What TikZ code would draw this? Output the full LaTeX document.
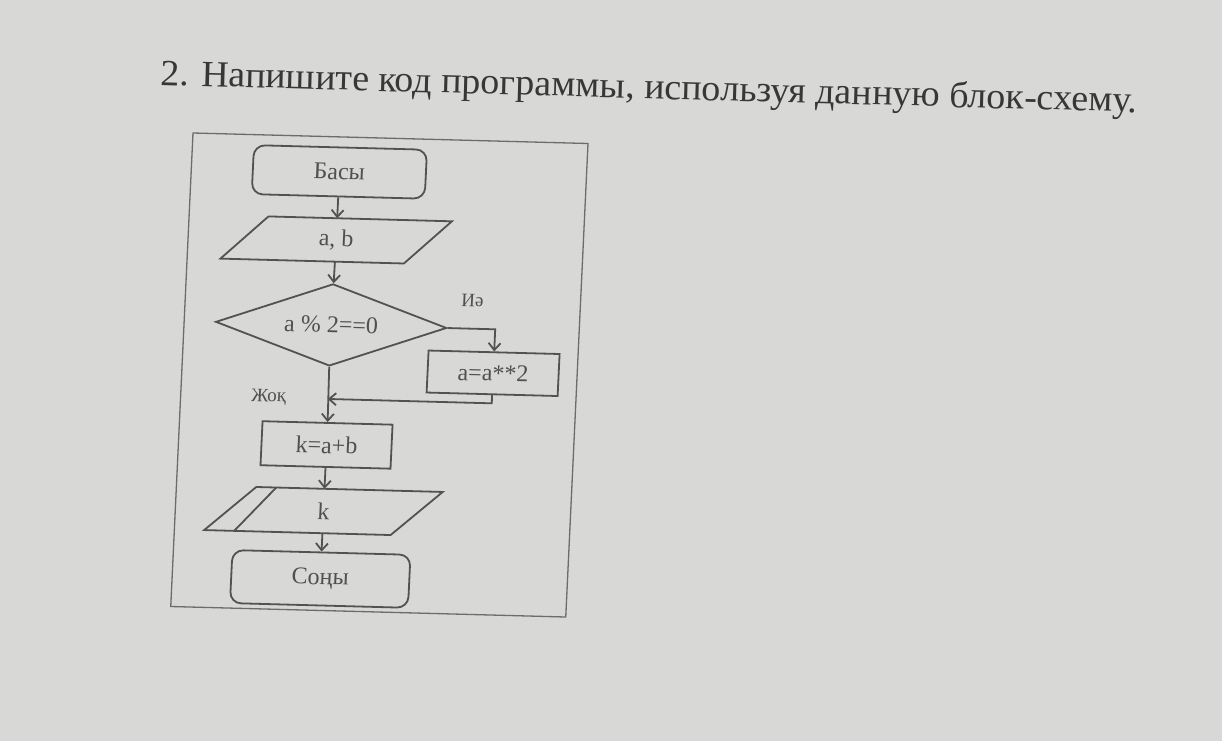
\documentclass[tikz,border=0pt]{standalone}
\usepackage{fontspec}
\setmainfont{Liberation Serif}
\usetikzlibrary{shapes.geometric,arrows.meta,calc}
\definecolor{paper}{RGB}{216,216,214}
\definecolor{ink}{RGB}{82,82,82}
\definecolor{textink}{RGB}{80,80,80}
\definecolor{titleink}{RGB}{55,55,55}
\begin{document}
\begin{tikzpicture}[x=1pt,y=1pt,
  line/.style={draw=ink,line width=1.8pt},
  arr/.style={line,-{Straight Barb[length=7pt,width=12pt]}},
  lbl/.style={text=textink,font=\fontsize{24}{28}\selectfont,inner sep=0pt},
  term/.style={lbl,line,rounded corners=11pt},
  proc/.style={lbl,line},
  iobox/.style={lbl,minimum height=43pt},
  dec/.style={lbl,line,diamond,aspect=2.8,minimum width=231pt,minimum height=82pt},
  note/.style={text=textink,font=\fontsize{19}{22}\selectfont,inner sep=0pt}]
\fill[paper] (0,0) rectangle (1222,-741);
\useasboundingbox (0,0) rectangle (1222,-741);
\node[anchor=base west,rotate=-1.6,inner sep=0pt,text=titleink] (title) at (160,-85)
  {\resizebox{977pt}{\height}{\fontsize{37}{44}\selectfont 2. Напишите код программы, используя данную блок-схему.}};
\begin{scope}[shift={(193,-133)},cm={1,-0.0266,0.0470,1,(0,0)},transform shape]
  \draw[draw=ink!85,line width=1.3pt] (0,0) rectangle (395,-473.5);
  \node[term,minimum width=173pt,minimum height=49pt] (basy) at (148,-35) {Басы};
  \node[iobox,minimum width=183pt] (ab) at (148,-103) {a, b};
  \draw[line] ([xshift=23pt]ab.north west) -- ([xshift=23pt]ab.north east)
     -- ([xshift=-23pt]ab.south east) -- ([xshift=-23pt]ab.south west) -- cycle;
  \node[dec] (dia) at (147,-188) {a \% 2==0};
  \node[proc,minimum width=131pt,minimum height=42pt] (ya) at (311,-232) {a=a**2};
  \coordinate (join) at (147,-262);
  \node[proc,minimum width=130pt,minimum height=44pt] (kab) at (148,-308) {k=a+b};
  \node[iobox,minimum width=186pt,minimum height=44pt] (outp) at (148,-374) {k};
  \draw[line] ([xshift=25pt]outp.north west) -- ([xshift=25pt]outp.north east)
     -- ([xshift=-25pt]outp.south east) -- ([xshift=-25pt]outp.south west) -- cycle;
  \draw[line] ([xshift=45pt]outp.north west) -- ([xshift=5pt]outp.south west);
  \node[term,minimum width=178pt,minimum height=53pt] (endn) at (148,-442) {Соңы};
  \node[note] (yes) at (287,-160) {Иә};
  \node[note] (no) at (88,-262) {Жоқ};
  \draw[arr] (basy) -- (ab);
  \draw[arr] (ab) -- (dia);
  \draw[arr] (dia.east) -| (ya.north);
  \draw[arr] (ya.south) |- (join);
  \draw[arr] (dia.south) -- (kab.north);
  \draw[arr] (kab) -- (outp);
  \draw[arr] (outp) -- (endn);
\end{scope}
\end{tikzpicture}
\end{document}
